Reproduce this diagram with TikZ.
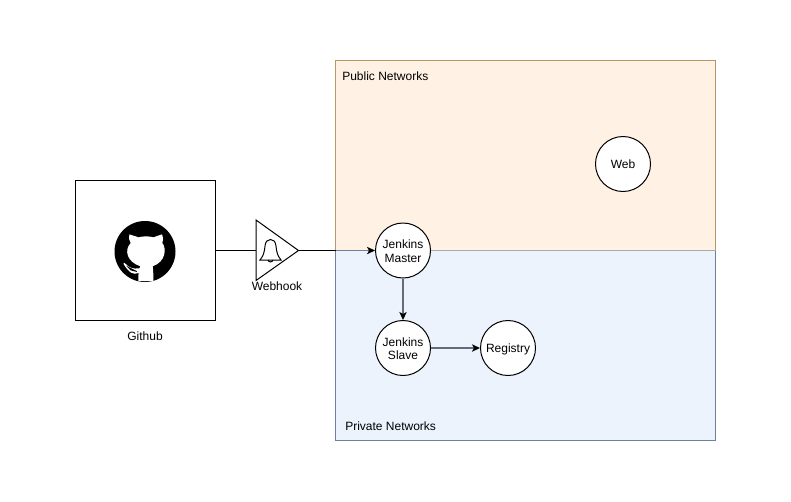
\documentclass[tikz,border=0pt]{standalone}
\usepackage{fontspec}
\setmainfont{Liberation Sans}
\usetikzlibrary{arrows.meta}
\definecolor{pubfill}{HTML}{FFF2E5}
\definecolor{privfill}{HTML}{ECF3FD}
\definecolor{pubedge}{HTML}{B59A66}
\definecolor{privedge}{HTML}{6F7F9C}
\definecolor{divider}{HTML}{A9A9A9}
\definecolor{inpanel}{HTML}{666B7A}
\newcommand{\dn}[2]{\raisebox{-#1}[\height][\depth]{#2}}
\tikzset{
  x=0.75pt,y=-0.75pt,
  txt/.style={font=\fontsize{9}{10.2}\selectfont,text=black,inner sep=0pt,align=center},
  circ/.style={circle,draw=black,fill=white,line width=0.75pt,minimum size=41.25pt,inner sep=0pt,font=\fontsize{9}{10.2}\selectfont,align=center},
  conn/.style={line width=0.75pt,draw=black},
  connin/.style={line width=1pt,draw=inpanel,-{Stealth[length=6pt,width=5.5pt,inset=1.5pt,black]}},
}
\begin{document}
\begin{tikzpicture}
\useasboundingbox (0,0) rectangle (791,501);
\fill[white] (0,0) rectangle (791,501);
% panels
\draw[fill=pubfill,draw=pubedge,line width=0.75pt] (335.5,60.5) rectangle (715.5,250);
\draw[fill=privfill,draw=privedge,line width=0.75pt] (335.5,250) rectangle (715.5,440.5);
\draw[draw=divider,line width=0.75pt] (335.5,250) -- (715.5,250);
\node[txt,anchor=west] (publabel) at (342,76) {Public Networks};
\node[txt,anchor=west] (privlabel) at (345,426) {Private Networks};
% github
\node[draw=black,fill=white,line width=0.75pt,minimum size=105pt,inner sep=0pt] (github) at (145.5,250.5) {};
\node[txt] (githublabel) at (145,336) {Github};
\fill[black] (145,251.5) circle[radius=30.5];
\begin{scope}[shift={(100,205)},x=0.25pt,y=-0.25pt]
\fill[white] (88,88) -- (116,97) .. controls (128,93) and (148,93) .. (160,97) -- (186,88)
  .. controls (190,100) and (190,108) .. (187,114)
  .. controls (200,130) and (198,170) .. (158,184)
  .. controls (160,195) and (160,210) .. (160,228) -- (115,228)
  .. controls (115,215) and (115,208) .. (116,204)
  .. controls (100,210) and (88,205) .. (70,176) -- (74,174)
  .. controls (88,190) and (100,192) .. (118,190)
  .. controls (118,187) and (118,186) .. (121,184)
  .. controls (80,170) and (72,135) .. (92,114)
  .. controls (87,108) and (87,100) .. (88,88) -- cycle;
\fill[black] (78,182) -- (110,198) -- (111,201) -- (92,196) -- cycle;
\end{scope}
% webhook
\coordinate (whin) at (256,250.5);
\coordinate (whout) at (298.5,250.5);
\draw[line width=0.75pt,fill=white] (256,220) -- (whout) -- (256,280.5) -- cycle;
\draw[line width=0.75pt] (260,260) -- (281,260)
  .. controls (279,258) and (277.5,255) .. (276.5,250)
  -- (276,246)
  .. controls (275.5,241.5) and (273.5,239.5) .. (270.5,239.5)
  .. controls (267.5,239.5) and (265.5,241.5) .. (265,246)
  -- (264.5,250)
  .. controls (263.5,255) and (262,258) .. (260,260) -- cycle;
\draw[line width=0.75pt] (268,260) .. controls (268.5,262.5) and (272.5,262.5) .. (273,260);
\node[txt] (webhooklabel) at (277,286) {Webhook};
% circles
\node[circ] (master) at (403,250.5) {\dn{0.6pt}{Jenkins}\\\dn{0.6pt}{Master}};
\node[circ] (slave) at (403,348) {\dn{0.6pt}{Jenkins}\\\dn{0.6pt}{Slave}};
\node[circ] (registry) at (508,348) {\dn{1.1pt}{Registry}};
\node[circ] (web) at (623,164) {Web};
% connectors
\coordinate (edge) at (335.5,250.5);
\draw[conn] (github.east) -- (whin);
\draw[conn] (whout) -- (edge);
\draw[connin,line width=0.75pt,draw=privedge] (edge) -- (master.west);
\draw[connin] (master.south) -- (slave.north);
\draw[connin] (slave.east) -- (registry.west);
\end{tikzpicture}
\end{document}
